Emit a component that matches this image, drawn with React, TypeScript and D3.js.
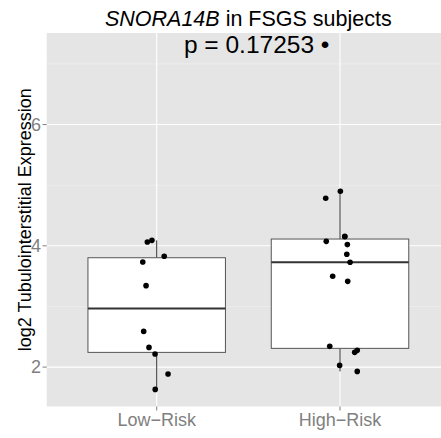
import React from "react";
import * as d3 from "d3";

const categories = ["Low\u2212Risk", "High\u2212Risk"];
const lowRiskValues = [4.063, 4.09, 3.827, 3.733, 3.343, 2.589, 2.325, 2.215, 1.885, 1.632];
const lowRiskJitter = [-0.051, -0.026, 0.041, -0.076, -0.058, -0.071, -0.042, -0.009, 0.062, -0.008];
const highRiskValues = [4.899, 4.784, 4.157, 4.074, 4.02, 3.86, 3.728, 3.497, 3.414, 2.342, 2.276, 2.243, 2.028, 1.929, 4.15];
const highRiskJitter = [0.002, -0.078, 0.026, -0.075, 0.04, 0.037, 0.055, -0.04, 0.042, -0.056, 0.094, 0.08, -0.002, 0.094, 0.026];
const yMajorTicks = [2, 4, 6];
const yMinorTicks = [3, 5, 7];
const pLabel = "p = 0.17253 \u2022";
const pLabelY = 7.18;
const titleItalic = "SNORA14B";
const titleRest = " in FSGS subjects";
const yTitle = "log2 Tubulointerstitial Expression";

const W = 441;
const H = 438;
const panel = { left: 46.7, top: 33, right: 450, bottom: 406.5 };
const FONT = "'Liberation Sans', Arial, Helvetica, sans-serif";
const GREY = "#7f7f7f";

export default function App() {
  const x = d3.scaleLinear().domain([0.4, 2.6]).range([panel.left, panel.right]);
  const y = d3.scaleLinear().domain([1.35, 7.51]).range([panel.bottom, panel.top]);
  const groups = [
    { values: lowRiskValues, jitter: lowRiskJitter },
    { values: highRiskValues, jitter: highRiskJitter },
  ];
  const stats = groups.map((g) => {
    const s = [...g.values].sort(d3.ascending);
    const q1 = d3.quantile(s, 0.25)!;
    const med = d3.quantile(s, 0.5)!;
    const q3 = d3.quantile(s, 0.75)!;
    const iqr = q3 - q1;
    const lo = d3.min(s.filter((v) => v >= q1 - 1.5 * iqr))!;
    const hi = d3.max(s.filter((v) => v <= q3 + 1.5 * iqr))!;
    return { q1, med, q3, lo, hi };
  });
  const bw = 0.75;
  return (
    <svg width={W} height={H} style={{ position: "absolute", left: 0, top: 0, background: "#fff" }} fontFamily={FONT}>
      <defs>
        <clipPath id="pc">
          <rect x={panel.left} y={panel.top} width={panel.right - panel.left} height={panel.bottom - panel.top} />
        </clipPath>
      </defs>
      <rect x={panel.left} y={panel.top} width={panel.right - panel.left} height={panel.bottom - panel.top} fill="#e5e5e5" />
      <g clipPath="url(#pc)">
        {yMinorTicks.map((t) => (
          <line key={"mn" + t} x1={panel.left} x2={panel.right} y1={y(t)} y2={y(t)} stroke="#f2f2f2" strokeWidth={0.6} />
        ))}
        {yMajorTicks.map((t) => (
          <line key={"mj" + t} x1={panel.left} x2={panel.right} y1={y(t)} y2={y(t)} stroke="#fff" strokeWidth={1.1} />
        ))}
        {categories.map((c, i) => (
          <line key={"xg" + c} x1={x(i + 1)} x2={x(i + 1)} y1={panel.top} y2={panel.bottom} stroke="#fff" strokeWidth={1.1} />
        ))}
        {stats.map((s, i) => (
          <g key={"box" + i}>
            <line x1={x(i + 1)} x2={x(i + 1)} y1={y(s.q3)} y2={y(s.hi)} stroke="#333" strokeWidth={1} />
            <line x1={x(i + 1)} x2={x(i + 1)} y1={y(s.q1)} y2={y(s.lo)} stroke="#333" strokeWidth={1} />
            <rect
              x={x(i + 1 - bw / 2)}
              y={y(s.q3)}
              width={x(i + 1 + bw / 2) - x(i + 1 - bw / 2)}
              height={y(s.q1) - y(s.q3)}
              fill="#fff"
              stroke="#555"
              strokeWidth={1}
            />
            <line x1={x(i + 1 - bw / 2)} x2={x(i + 1 + bw / 2)} y1={y(s.med)} y2={y(s.med)} stroke="#333" strokeWidth={2} />
          </g>
        ))}
        {groups.map((g, i) =>
          g.values.map((v, j) => (
            <circle key={`pt${i}-${j}`} cx={x(i + 1 + g.jitter[j])} cy={y(v)} r={2.8} fill="#000" />
          ))
        )}
      </g>
      <text x={256.7} y={y(pLabelY)} textAnchor="middle" fontSize={24.5} fill="#000">
        {pLabel}
      </text>
      {yMajorTicks.map((t) => (
        <g key={"yt" + t}>
          <line x1={42.5} x2={panel.left} y1={y(t)} y2={y(t)} stroke={GREY} strokeWidth={1} />
          <text x={41} y={y(t)} dy="0.35em" textAnchor="end" fontSize={18} fill={GREY}>
            {t}
          </text>
        </g>
      ))}
      {categories.map((c, i) => (
        <g key={"xt" + c}>
          <line x1={x(i + 1)} x2={x(i + 1)} y1={panel.bottom} y2={panel.bottom + 4} stroke={GREY} strokeWidth={1} />
          <text x={x(i + 1)} y={425.7} textAnchor="middle" fontSize={18} fill={GREY}>
            {c}
          </text>
        </g>
      ))}
      <text x={(panel.left + panel.right) / 2} y={26} textAnchor="middle" fontSize={21.5} fill="#000">
        <tspan fontStyle="italic">{titleItalic}</tspan>
        <tspan>{titleRest}</tspan>
      </text>
      <text
        transform={`translate(31,${(panel.top + panel.bottom) / 2}) rotate(-90)`}
        textAnchor="middle"
        fontSize={18}
        fill="#000"
      >
        {yTitle}
      </text>
    </svg>
  );
}
